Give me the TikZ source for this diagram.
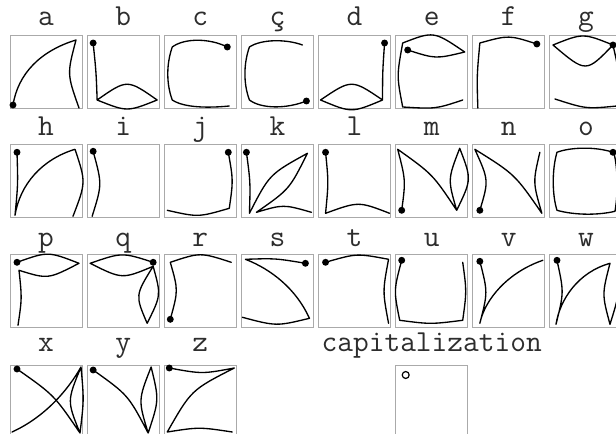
\documentclass[tikz,border=0pt]{standalone}
\usepackage{fontspec}
\usetikzlibrary{positioning,calc}

\definecolor{cellgray}{RGB}{170,170,170}
\definecolor{inkgray}{RGB}{45,45,45}

\tikzset{
    cellbox/.style={draw=cellgray, line width=0.75pt, fill=white,
        minimum width=54pt, minimum height=54.75pt,
        inner sep=0pt, outer sep=0pt, anchor=north west},
    letter/.style={font=\ttfamily\fontsize{22.9}{24}\selectfont, text=inkgray,
        inner sep=0pt, text depth=0pt},
    glyphline/.style={draw=black, line width=1pt, line cap=round, line join=round},
    startdot/.style={fill=black}
}

% one glyph: cell name, start point, rest of the stroke
\newcommand{\drawglyph}[3]{%
    \begin{scope}[shift={(cell-#1.north west)}]
        \fill[startdot] #2 circle[radius=2.6pt];
        \draw[glyphline] #2 #3;
    \end{scope}}

\begin{document}
\begin{tikzpicture}[x=0.75pt,y=-0.75pt]

\useasboundingbox (0,0) rectangle (616,434);
\clip (0,0) rectangle (616,434);

% Cells with their letters
\foreach \name/\txt [count=\i from 0] in {a/a, b/b, c/c, ccedil/ç, d/d, e/e, f/f, g/g,
        h/h, i/i, j/j, k/k, l/l, m/m, n/n, o/o,
        p/p, q/q, r/r, s/s, t/t, u/u, v/v, w/w,
        x/x, y/y, z/z} {
    \pgfmathtruncatemacro\col{mod(\i,8)}
    \pgfmathtruncatemacro\row{div(\i,8)}
    \pgfmathsetmacro\celltop{{36,144.3,254.3,365}[\row]}
    \pgfmathsetmacro\labgap{{7.5,6.2,5.3,9.75}[\row]}
    \node[cellbox] (cell-\name) at ({10+77.14*\col},\celltop) {};
    \node[letter, above=\labgap pt of cell-\name] (lab-\name) {\txt};
}

% Capitalization cell
\node[cellbox] (cell-cap) at ({10+77.14*5},365) {};
\node[letter, above=9.75pt of cell-cap] (lab-cap) {capitalization};
\draw[glyphline, line width=0.9pt] ($(cell-cap.north west)+(10,10)$) circle[radius=2.6pt];

% Row 1
\drawglyph{a}{(3,69)}{.. controls (8,38) and (30,15) .. (66,4) .. controls (57,38) .. (69,72)}
\drawglyph{b}{(6,7)}{.. controls (9,36) .. (10,64) .. controls (40,43) .. (70,64) .. controls (40,76) .. (10,64)}
\drawglyph{c}{(63,11)}{.. controls (45,2) and (20,2) .. (8,11) .. controls (2,28) and (2,48) .. (8,64) .. controls (20,72) and (45,72) .. (65,70)}
\drawglyph{ccedil}{(65,65)}{.. controls (45,73) and (20,73) .. (8,64) .. controls (2,48) and (2,28) .. (8,11) .. controls (20,3) and (45,3) .. (61,9)}
\drawglyph{d}{(66,7)}{.. controls (64,36) .. (64,64) .. controls (33,43) .. (2,64) .. controls (33,77) .. (64,64)}
\drawglyph{e}{(12,14)}{.. controls (40,23) .. (69,16) .. controls (38,-5) .. (7,7) .. controls (1,40) .. (7,71) .. controls (40,73) .. (67,64)}
\drawglyph{f}{(64,8)}{.. controls (36,-1) .. (7,7) .. controls (4,40) .. (5,72)}
\drawglyph{g}{(63,9)}{.. controls (33,-3) .. (3,9) .. controls (36,37) .. (63,9) .. controls (70,40) .. (67,70) .. controls (36,73) .. (5,63)}

% Row 2
\drawglyph{h}{(7,8)}{.. controls (8,40) .. (5,71) .. controls (10,40) and (32,15) .. (65,5) .. controls (76,38) .. (63,72)}
\drawglyph{i}{(6,7)}{.. controls (15,40) .. (5,72)}
\drawglyph{j}{(64,8)}{.. controls (69,36) .. (65,64) .. controls (34,73) .. (3,66)}
\drawglyph{k}{(5,8)}{.. controls (9,38) .. (8,69) .. controls (28,30) .. (66,9) .. controls (48,45) .. (15,68) .. controls (42,60) .. (70,68)}
\drawglyph{l}{(7,8)}{.. controls (10,38) .. (7,69) .. controls (40,57) .. (71,69)}
\drawglyph{m}{(6,66)}{.. controls (10,36) .. (2,5) .. controls (37,30) .. (61,66) .. controls (52,35) .. (64,4) .. controls (76,35) .. (61,66)}
\drawglyph{n}{(7,66)}{.. controls (16,36) .. (2,5) .. controls (42,30) .. (69,69) .. controls (60,38) .. (67,8)}
\drawglyph{o}{(63,8)}{.. controls (45,2) and (20,3) .. (7,8) .. controls (2,25) and (2,50) .. (7,66) .. controls (25,71) and (48,71) .. (65,67) .. controls (68,50) and (68,25) .. (64,9)}

% Row 3
\drawglyph{p}{(7,8)}{.. controls (38,-3) .. (69,9) .. controls (38,25) .. (9,16) .. controls (12,44) .. (8,71)}
\drawglyph{q}{(66,8)}{.. controls (35,-2) .. (3,9) .. controls (35,25) .. (66,12) .. controls (48,41) .. (60,69) .. controls (74,41) .. (66,12)}
\drawglyph{r}{(6,65)}{.. controls (14,36) .. (6,8) .. controls (36,-2) .. (67,8)}
\drawglyph{s}{(64,9)}{.. controls (34,4) .. (4,5) .. controls (30,15) and (55,35) .. (68,64) .. controls (35,72) .. (1,63)}
\drawglyph{t}{(7,8)}{.. controls (38,-1) .. (70,5) .. controls (64,37) .. (70,69)}
\drawglyph{u}{(6,6)}{.. controls (-2,36) .. (4,66) .. controls (35,70) .. (67,66) .. controls (71,37) .. (67,8)}
\drawglyph{v}{(7,7)}{.. controls (15,38) .. (7,69) .. controls (12,45) and (35,18) .. (70,6)}
\drawglyph{w}{(7,6)}{.. controls (14,38) .. (6,70) .. controls (10,45) and (28,18) .. (60,9) .. controls (52,40) .. (60,70) .. controls (70,38) .. (67,4)}

% Row 4
\drawglyph{x}{(7,4)}{.. controls (44,30) .. (70,68) .. controls (74,35) .. (71,2) .. controls (57,36) .. (70,68) (71,2) .. controls (58,25) and (35,52) .. (2,67)}
\drawglyph{y}{(6,5)}{.. controls (41,30) .. (61,68) .. controls (51,35) .. (64,2) .. controls (72,35) .. (61,68)}
\drawglyph{z}{(5,3)}{.. controls (38,9) .. (70,3) .. controls (27,25) .. (3,67) .. controls (35,62) .. (68,67)}

\end{tikzpicture}
\end{document}
